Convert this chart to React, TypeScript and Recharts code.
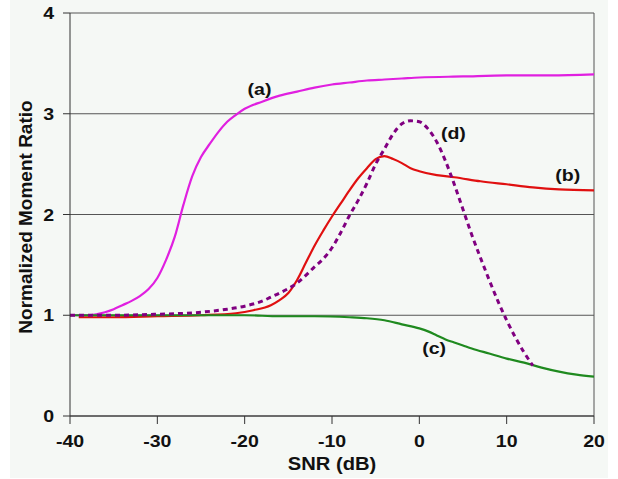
import React from "react"
import { LineChart, Line, XAxis, YAxis, CartesianGrid, ReferenceLine, ReferenceDot } from "recharts"

// curve (a)
const snrA = [-40, -38, -37, -36, -35, -34, -33, -32, -31, -30, -29, -28, -27, -26, -25, -24, -23, -22, -21, -20, -18, -16, -14, -12, -10, -8, -6, -4, -2, 0, 5, 10, 15, 20]
const ratioA = [1.0, 1.0, 1.01, 1.03, 1.06, 1.1, 1.14, 1.19, 1.26, 1.37, 1.55, 1.78, 2.1, 2.38, 2.57, 2.7, 2.82, 2.92, 2.99, 3.05, 3.12, 3.18, 3.22, 3.26, 3.29, 3.31, 3.33, 3.34, 3.35, 3.36, 3.37, 3.38, 3.38, 3.39]

// curve (b)
const snrB = [-39, -35, -30, -25, -21, -19, -17, -16, -15, -14, -13, -12, -11, -10, -9, -8, -7, -6, -5, -4, -3, -2, -1, 0, 2, 4, 7, 10, 13, 16, 20]
const ratioB = [0.98, 0.98, 0.99, 1.0, 1.02, 1.05, 1.1, 1.15, 1.22, 1.35, 1.52, 1.69, 1.84, 1.98, 2.11, 2.24, 2.36, 2.46, 2.55, 2.58, 2.55, 2.51, 2.46, 2.43, 2.39, 2.37, 2.33, 2.3, 2.27, 2.25, 2.24]

// curve (c)
const snrC = [-40, -30, -20, -16, -12, -8, -6, -4, -2, 0, 1, 2, 3, 4, 5, 6, 8, 10, 12, 14, 16, 18, 20]
const ratioC = [1.0, 1.0, 1.0, 0.99, 0.99, 0.98, 0.97, 0.95, 0.91, 0.87, 0.84, 0.8, 0.76, 0.73, 0.7, 0.67, 0.62, 0.57, 0.53, 0.48, 0.44, 0.41, 0.39]

// curve (d), dashed
const snrD = [-40, -35, -30, -25, -22, -20, -18, -17, -16, -14, -12, -11, -10, -9, -8, -7, -6, -5, -4, -3, -2, -1, 0, 1, 2, 3, 4, 5, 6, 7, 8, 9, 10, 11, 12, 13]
const ratioD = [1.0, 1.0, 1.01, 1.03, 1.06, 1.09, 1.14, 1.18, 1.22, 1.32, 1.48, 1.56, 1.67, 1.82, 1.99, 2.14, 2.31, 2.5, 2.65, 2.8, 2.9, 2.93, 2.92, 2.85, 2.72, 2.53, 2.3, 2.05, 1.8, 1.57, 1.35, 1.14, 0.95, 0.78, 0.63, 0.5]

const xTicks = [-40, -30, -20, -10, 0, 10, 20]
const yTicks = [0, 1, 2, 3, 4]

// curve tags: text, snr, ratio
const tagText = ["(a)", "(b)", "(c)", "(d)"]
const tagSnr = [-18.3, 17.0, 1.7, 3.9]
const tagRatio = [3.19, 2.33, 0.62, 2.75]

const toPoints = (xs: number[], ys: number[]) => xs.map((x, i) => ({ snr: x, ratio: ys[i] }))

const font = "'Liberation Sans', Arial, sans-serif"
const SX = 1.15 // the original text is a bit wide

const YTick = ({ x, y, payload }: any) => (
  <text transform={`translate(${x},${y}) scale(${SX},1)`} textAnchor="end" dy="0.36em" fontFamily={font} fontWeight="bold" fontSize={17} fill="#111">
    {payload.value}
  </text>
)

const XTick = ({ x, y, payload }: any) => (
  <text transform={`translate(${x},${y + 19}) scale(${SX},1)`} textAnchor="middle" fontFamily={font} fontWeight="bold" fontSize={17} fill="#111">
    {payload.value}
  </text>
)

export default function App() {
  const series = [
    { key: "a", data: toPoints(snrA, ratioA), color: "#e020e0", dash: undefined, width: 2.2 },
    { key: "b", data: toPoints(snrB, ratioB), color: "#e01010", dash: undefined, width: 2.2 },
    { key: "c", data: toPoints(snrC, ratioC), color: "#1f8a1f", dash: undefined, width: 2.2 },
    { key: "d", data: toPoints(snrD, ratioD), color: "#800080", dash: "5 4", width: 3 },
  ]

  return (
    <div style={{ position: "absolute", left: 0, top: 0, width: 618, height: 479, background: "#fff" }}>
      <div style={{ position: "absolute", left: 10, top: 0, width: 598, height: 478, background: "#f5f8f5" }} />
      <div style={{ position: "absolute", left: 0, top: 0 }}>
        <LineChart width={618} height={479} margin={{ top: 13, right: 24, bottom: 23, left: 10 }}>
          <CartesianGrid vertical={false} stroke="#555" strokeWidth={1} />
          <XAxis
            type="number"
            dataKey="snr"
            domain={[-40, 20]}
            ticks={xTicks}
            height={40}
            tickSize={8}
            tickMargin={4}
            tick={<XTick />}
            stroke="#333"
            tickLine={{ stroke: "#333" }}
            allowDataOverflow
          />
          <YAxis
            type="number"
            dataKey="ratio"
            domain={[0, 4]}
            ticks={yTicks}
            width={60}
            tickSize={7}
            tickMargin={9}
            tick={<YTick />}
            stroke="#333"
            tickLine={{ stroke: "#333" }}
          />
          <ReferenceLine x={20} stroke="#555" />
          {series.map((s) => (
            <Line
              key={s.key}
              data={s.data}
              dataKey="ratio"
              type="monotone"
              stroke={s.color}
              strokeWidth={s.width}
              strokeDasharray={s.dash}
              dot={false}
              isAnimationActive={false}
            />
          ))}
          {tagText.map((t, i) => (
            <ReferenceDot
              key={t}
              x={tagSnr[i]}
              y={tagRatio[i]}
              r={0}
              shape={(p: any) => (
                <text transform={`translate(${p.cx},${p.cy}) scale(${SX},1)`} textAnchor="middle" fontFamily={font} fontWeight="bold" fontSize={17} fill="#111">
                  {t}
                </text>
              )}
            />
          ))}
        </LineChart>
      </div>
      <svg width={618} height={479} style={{ position: "absolute", left: 0, top: 0, pointerEvents: "none" }}>
        <text transform={`translate(332,470) scale(1.12,1)`} textAnchor="middle" fontFamily={font} fontWeight="bold" fontSize={18} fill="#111">
          SNR (dB)
        </text>
        <text transform="translate(32,217) rotate(-90)" textAnchor="middle" fontFamily={font} fontWeight="bold" fontSize={19} fill="#111">
          Normalized Moment Ratio
        </text>
      </svg>
    </div>
  )
}
